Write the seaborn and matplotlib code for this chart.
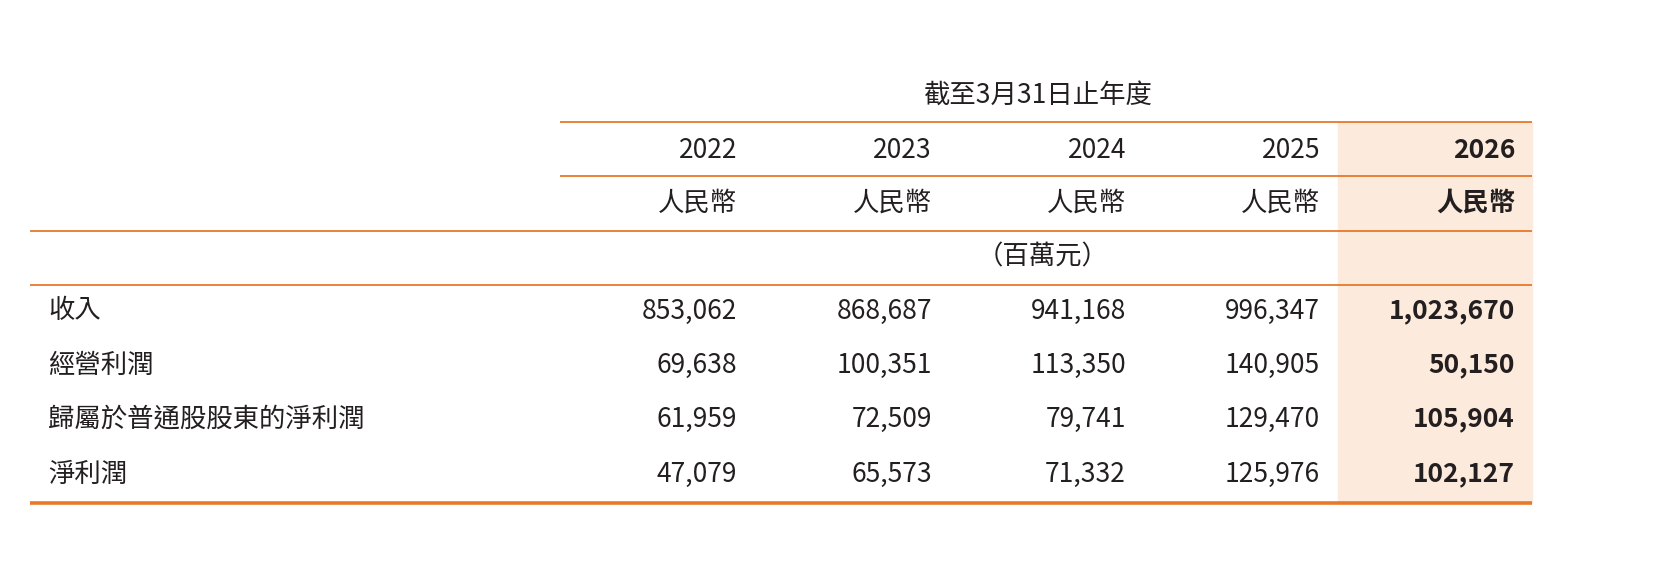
import seaborn as sns
import matplotlib.pyplot as plt
from matplotlib.patches import Rectangle

sns.set_theme(style="white")
plt.rcParams['font.family'] = ['Noto Sans CJK TC', 'DejaVu Sans']

years = ["2022", "2023", "2024", "2025", "2026"]
row_labels = ["收入", "經營利潤", "歸屬於普通股股東的淨利潤", "淨利潤"]
revenue = [853062, 868687, 941168, 996347, 1023670]
op_profit = [69638, 100351, 113350, 140905, 50150]
attrib_profit = [61959, 72509, 79741, 129470, 105904]
net_profit = [47079, 65573, 71332, 125976, 102127]
rows = [revenue, op_profit, attrib_profit, net_profit]
currency = "人民幣"
unit = "（百萬元）"
period = "截至3月31日止年度"

orange = "#E8782A"
peach = "#FCEADC"
txt = "#231F20"

fig = plt.figure(figsize=(16.76, 5.78), dpi=100)
ax = fig.add_axes([0, 0, 1, 1])
ax.set_xlim(0, 1676)
ax.set_ylim(578, 0)
ax.axis("off")

col_right = [737, 932, 1126, 1320, 1515]
row_y = [311, 365, 419, 474]
fs = 19

# highlighted column
ax.add_patch(Rectangle((1338, 122), 194, 381, color=peach, zorder=0))

ax.text(1037, 95, period, ha="center", va="center", fontsize=fs, color=txt)
for y, x0, lw in [(122, 560, 1.3), (176, 560, 1.3), (231, 30, 1.3), (285, 30, 1.3), (503, 30, 2.6)]:
    ax.plot([x0, 1532], [y, y], color=orange, lw=lw, solid_capstyle="butt")

for i, (yr, x) in enumerate(zip(years, col_right)):
    bold = "bold" if i == len(years) - 1 else "normal"
    ax.text(x, 150, yr, ha="right", va="center", fontsize=fs, color=txt, fontweight=bold)
    ax.text(x, 203, currency, ha="right", va="center", fontsize=fs, color=txt, fontweight=bold)

ax.text(1043, 257, unit, ha="center", va="center", fontsize=fs, color=txt, style="italic")

for label, vals, y in zip(row_labels, rows, row_y):
    ax.text(48, y, label, ha="left", va="center", fontsize=fs, color=txt)
    for i, (v, x) in enumerate(zip(vals, col_right)):
        bold = "bold" if i == len(vals) - 1 else "normal"
        ax.text(x, y, f"{v:,}", ha="right", va="center", fontsize=fs, color=txt, fontweight=bold)

fig.savefig("out.png", dpi=100)
